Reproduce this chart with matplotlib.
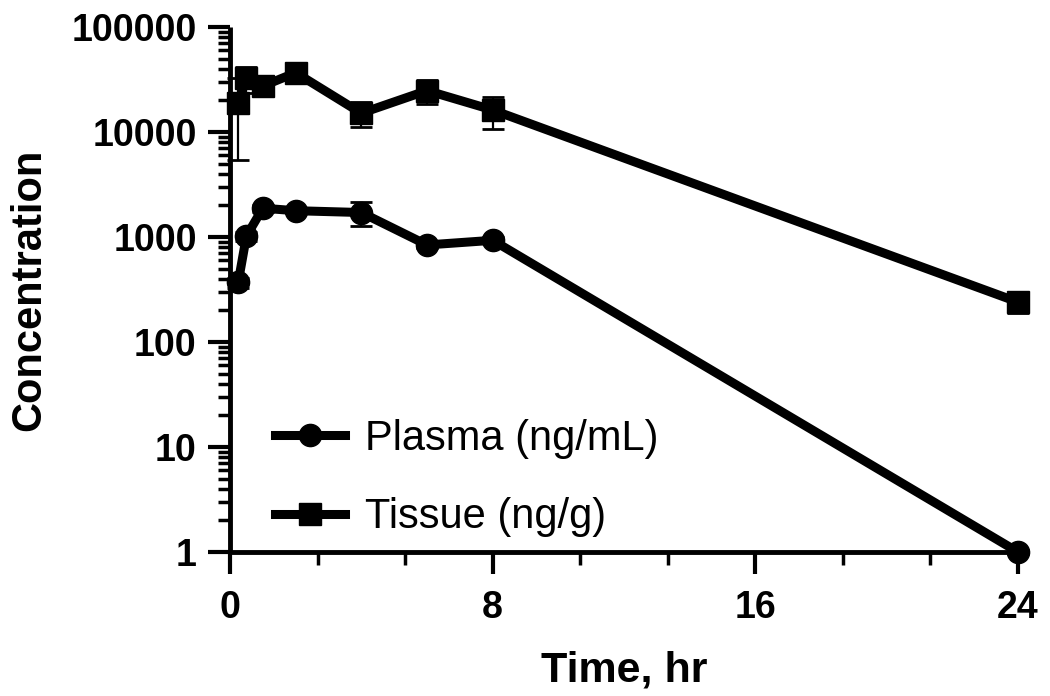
import matplotlib
matplotlib.use("Agg")
import matplotlib.pyplot as plt
from matplotlib.ticker import FixedLocator, LogLocator, NullFormatter

time_plasma = [0.25, 0.5, 1, 2, 4, 6, 8, 24]
plasma = [370, 1020, 1880, 1780, 1710, 840, 930, 1.0]
plasma_sd = [40, 100, 150, 100, 450, 60, 60, 0.05]

time_tissue = [0.25, 0.5, 1, 2, 4, 6, 8, 24]
tissue = [18900, 32700, 27400, 36700, 15100, 24800, 16200, 240]
tissue_sd = [13500, 9000, 3000, 3000, 4000, 6500, 5500, 50]

x_ticks = [0, 8, 16, 24]
y_ticks = [1, 10, 100, 1000, 10000, 100000]
y_ticklabels = ["1", "10", "100", "1000", "10000", "100000"]

plt.rcParams['font.family'] = ['Liberation Sans', 'DejaVu Sans']

fig = plt.figure(figsize=(10.5, 6.96), dpi=100)
ax = fig.add_axes([230/1050, 1-552/696, (1018-230)/1050, (552-27)/696])

lw = 6.5
for t, v, sd, mk, lab in [(time_plasma, plasma, plasma_sd, 'o', 'Plasma (ng/mL)'),
                          (time_tissue, tissue, tissue_sd, 's', 'Tissue (ng/g)')]:
    ax.errorbar(t, v, yerr=sd, fmt='none', ecolor='black', elinewidth=1.6,
                capsize=8, capthick=2, zorder=2, clip_on=False)
    ax.plot(t, v, color='black', lw=lw, marker=mk, markersize=16,
            label=lab, zorder=3, clip_on=False, solid_joinstyle='round')

ax.set_yscale('log')
ax.set_xlim(0, 24)
ax.set_ylim(1, 100000)

ax.xaxis.set_major_locator(FixedLocator(x_ticks))
ax.xaxis.set_minor_locator(FixedLocator([8/3, 16/3, 32/3, 40/3, 56/3, 64/3]))
ax.set_xticklabels([str(v) for v in x_ticks])
ax.yaxis.set_major_locator(FixedLocator(y_ticks))
ax.set_yticklabels(y_ticklabels)
ax.yaxis.set_minor_locator(LogLocator(base=10, subs=range(2, 10), numticks=20))
ax.yaxis.set_minor_formatter(NullFormatter())

for s in ['top', 'right']:
    ax.spines[s].set_visible(False)
for s in ['left', 'bottom']:
    ax.spines[s].set_linewidth(3.5)
    ax.spines[s].set_capstyle('butt')

ax.tick_params(axis='both', which='major', direction='out', length=16, width=3,
               labelsize=27, pad=8)
ax.tick_params(axis='both', which='minor', direction='out', length=9, width=2.5)
ax.tick_params(axis='x', which='major', pad=11)
for lbl in ax.get_xticklabels() + ax.get_yticklabels():
    lbl.set_fontweight('bold')

ax.set_xlabel('Time, hr', fontsize=31, fontweight='bold', labelpad=18)
ax.set_ylabel('Concentration', fontsize=30, fontweight='bold', va='center')
ax.yaxis.set_label_coords((29-230)/(1018-230), 0.5)

leg = ax.legend(loc='upper left', bbox_to_anchor=((275-230)/(1018-230), (552-419)/525),
                frameon=False, fontsize=30, handlelength=1.68, handletextpad=0.48,
                labelspacing=0.92, borderaxespad=0, borderpad=0)
for h in leg.legend_handles:
    h.set_markersize(16)

fig.savefig('out.png', dpi=100)
